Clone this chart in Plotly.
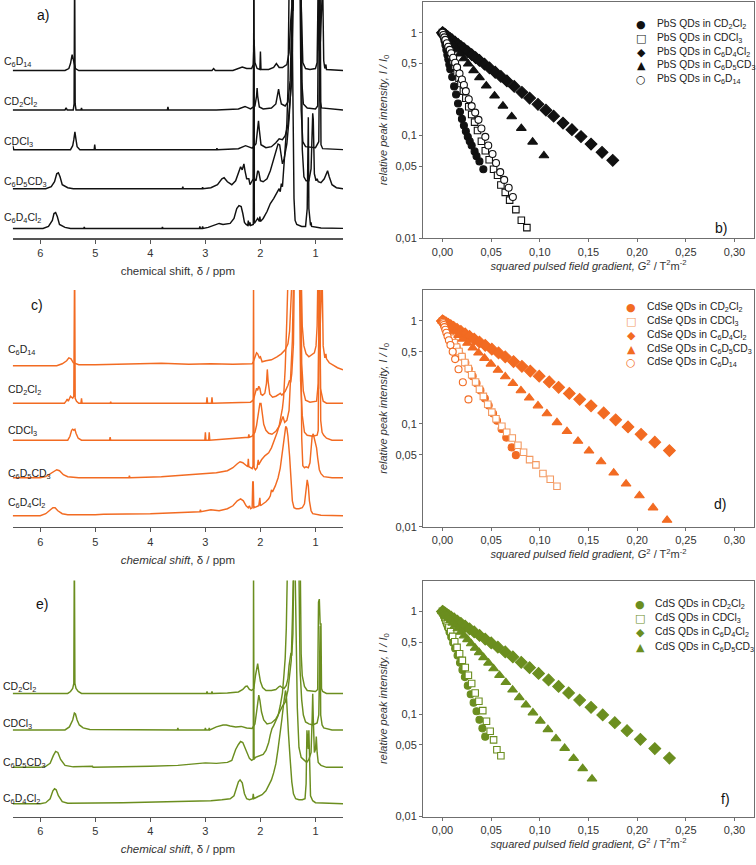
import plotly.graph_objects as go

W, H = 756, 865
FONT = "Liberation Sans, Arial, sans-serif"
BLACK = "#111111"
ORANGE = "#F26B22"
ORANGE_L = "#F39A62"
GREEN = "#6B8E1F"
AXC = "#6f6f6f"

# ---------------- NMR spectra: (ppm, height above own baseline) ----------------
SOLVENTS_A = ["C<sub>6</sub>D<sub>14</sub>", "CD<sub>2</sub>Cl<sub>2</sub>", "CDCl<sub>3</sub>",
              "C<sub>6</sub>D<sub>5</sub>CD<sub>3</sub>", "C<sub>6</sub>D<sub>4</sub>Cl<sub>2</sub>"]
SOLVENTS_E = SOLVENTS_A[1:]
BASE_A = [169, 129.3, 89.3, 50, 10]
BASE_C = [162.4, 124.7, 87.4, 49.7, 11.4]
BASE_E = [124, 87.3, 49.6, 13]

A_C6D14 = [(6.5,0),(5.55,0),(5.48,2),(5.45,7),(5.42,16),(5.39,7),(5.36,2),(5.3,0),(2.88,0),(2.85,2),(2.82,0),
           (2.5,0),(2.4,2),(2.33,3.5),(2.25,2),(2.16,2),(2.13,6),(2.115,31),(2.10,8),(2.06,2),(2.01,1),(2.0,19),
           (1.99,1),(1.85,1),(1.76,3),(1.71,7),(1.66,3),(1.6,3),(1.52,6),(1.48,18),(1.45,50),(1.43,64),(1.41,60),
           (1.39,90),(1.27,90),(1.25,40),(1.23,8),(1.18,2),(1.1,1),(1.0,2),(0.97,8),(0.95,90),(0.93,20),(0.91,30),
           (0.89,90),(0.87,90),(0.85,10),(0.83,2),(0.81,6),(0.80,1),(0.5,0)]
A_CD2CL2 = [(6.5,0),(5.55,0),(5.53,2),(5.51,0),(5.40,0),(5.385,6),(5.375,150),(5.365,6),(5.35,0),(5.26,0),(5.25,2),
            (5.24,0),(3.69,0),(3.68,3),(3.67,0),(2.8,0),(2.4,1),(2.28,3.5),(2.18,1),(2.1,4),(2.07,14),(2.06,22),
            (2.05,14),(2.02,3),(1.95,1),(1.8,2),(1.72,6),(1.69,14),(1.67,21),(1.65,14),(1.62,6),(1.55,4),(1.50,8),
            (1.46,30),(1.43,80),(1.40,150),(1.27,150),(1.25,30),(1.22,6),(1.15,2),(1.0,1),(0.96,4),(0.94,150),
            (0.93,150),(0.92,10),(0.89,2),(0.5,0)]
A_CDCL3 = [(6.5,4),(6.48,0),(5.45,0),(5.41,4),(5.39,10),(5.37,18),(5.35,10),(5.33,3),(5.28,0),(5.02,0),(5.01,5),
           (5.00,0),(2.8,0),(2.79,1.5),(2.78,0),(2.4,1),(2.27,4),(2.15,1.5),(2.08,6),(2.05,20),(2.035,29),(2.02,20),
           (1.99,5),(1.9,2),(1.8,3),(1.72,7),(1.66,11),(1.6,10),(1.55,14),(1.5,25),(1.47,45),(1.45,57),(1.43,70),
           (1.40,160),(1.28,160),(1.26,40),(1.23,8),(1.18,3),(1.0,2),(0.94,8),(0.925,160),(0.915,160),(0.90,5),
           (0.87,1),(0.5,0)]
A_C6D5CD3 = [(6.5,0),(5.9,0),(5.8,2),(5.74,7),(5.70,15),(5.67,16),(5.64,12),(5.6,4),(5.5,1),(5.4,0),(3.42,0),
             (3.41,2),(3.40,0),(3.06,0),(3.05,1.5),(3.04,0),(2.9,1),(2.78,4),(2.70,10),(2.66,11),(2.6,7),(2.52,4),
             (2.45,8),(2.40,17),(2.36,22),(2.33,19),(2.30,25),(2.28,18),(2.25,10),(2.21,10),(2.19,4),(2.16,7),
             (2.13,10),(2.12,200),(2.11,10),(2.08,8),(2.05,18),(2.03,17),(2.0,8),(1.95,7),(1.88,10),(1.82,18),
             (1.76,30),(1.72,38),(1.68,45),(1.65,44),(1.62,35),(1.6,25),(1.57,30),(1.52,45),(1.48,70),(1.46,95),
             (1.44,110),(1.42,200),(1.26,200),(1.24,40),(1.21,12),(1.17,8),(1.12,8),(1.08,20),(1.06,70),(1.05,76),
             (1.04,70),(1.02,15),(0.99,8),(0.97,10),(0.95,7),(0.9,6),(0.84,10),(0.80,17),(0.78,18),(0.75,12),
             (0.70,4),(0.62,1),(0.5,0)]
A_C6D4CL2 = [(6.5,0),(5.95,0),(5.85,2),(5.78,8),(5.75,15),(5.72,16),(5.69,12),(5.65,4),(5.55,1),(5.45,0),(5.21,0),
             (5.2,1.5),(5.19,0),(3.79,0),(3.78,1.5),(3.77,0),(3.11,0),(3.10,2),(3.09,0),(3.06,0),(3.05,2),(3.04,0),
             (2.95,1),(2.8,4),(2.75,5),(2.68,4),(2.55,5),(2.48,10),(2.43,20),(2.39,23),(2.35,22),(2.32,15),(2.29,6),
             (2.26,4),(2.23,3),(2.22,8),(2.21,3),(2.19,6),(2.18,3),(2.13,4),(2.12,240),(2.11,5),(2.08,8),(2.05,10),
             (2.02,7),(2.01,12),(2.0,7),(1.95,10),(1.88,17),(1.82,25),(1.76,30),(1.70,37),(1.66,40),(1.64,37),
             (1.62,45),(1.60,42),(1.58,60),(1.56,80),(1.54,95),(1.52,105),(1.50,140),(1.48,240),(1.43,240),
             (1.41,120),(1.39,30),(1.37,8),(1.34,4),(1.25,2),(1.18,2),(1.15,20),(1.14,112),(1.13,112),(1.12,20),
             (1.09,3),(1.08,6),(1.07,2),(0.9,0.5),(0.5,0)]

C_C6D14 = [(6.5,0),(5.7,0),(5.6,2),(5.52,5),(5.48,8),(5.44,7),(5.4,3),(5.3,1),(5.0,1),(4.5,1.5),(3.8,2.5),(3.3,1.5),
           (2.9,2),(2.5,1.5),(2.2,1.5),(2.15,2),(2.13,4),(2.10,9),(2.07,13),(2.05,12),(2.02,8),(2.0,9),(1.97,4),
           (1.9,5),(1.8,6),(1.7,9),(1.62,12),(1.55,16),(1.50,22),(1.47,35),(1.44,60),(1.42,95),(1.26,95),(1.24,40),
           (1.21,20),(1.17,12),(1.12,9),(1.07,11),(1.02,13),(0.99,20),(0.97,40),(0.955,95),(0.94,95),(0.92,30),
           (0.90,95),(0.88,95),(0.86,20),(0.83,8),(0.81,12),(0.80,7),(0.75,3),(0.6,-2),(0.5,-4)]
C_CD2CL2 = [(6.5,0),(5.56,0),(5.53,2),(5.51,4),(5.49,2),(5.47,5),(5.45,7),(5.43,6),(5.41,5),(5.39,7),(5.375,150),
            (5.365,5),(5.34,2),(5.3,0),(5.26,0),(5.25,5),(5.24,0),(4.73,0),(4.72,1.5),(4.71,0),(2.98,0),(2.97,6),
            (2.96,0),(2.89,0),(2.88,6),(2.87,0),(2.3,0.5),(2.18,1),(2.13,3),(2.09,12),(2.07,15),(2.05,13),(2.03,17),
            (2.01,15),(1.99,9),(1.96,8),(1.92,10),(1.89,20),(1.875,34),(1.86,22),(1.83,9),(1.78,6),(1.72,7),
            (1.66,9),(1.64,10),(1.61,8),(1.55,12),(1.50,18),(1.47,23),(1.45,21),(1.43,30),(1.40,60),(1.38,150),
            (1.27,150),(1.25,40),(1.22,12),(1.18,3),(1.1,1),(0.98,2),(0.95,20),(0.94,150),(0.925,150),(0.91,15),
            (0.88,6),(0.86,2),(0.8,0),(0.5,0)]
C_CDCL3 = [(6.5,0),(5.5,0),(5.46,4),(5.43,10),(5.41,11),(5.39,10),(5.37,11),(5.35,7),(5.31,2),(5.25,0),(4.74,0),
           (4.73,3),(4.72,0),(3.01,0),(3.0,8),(2.99,0),(2.94,0),(2.93,8),(2.92,0),(2.6,1.5),(2.3,2.5),(2.22,3),
           (2.21,6),(2.20,3),(2.15,4),(2.10,8),(2.07,15),(2.05,22),(2.03,32),(2.01,37),(1.99,37),(1.97,28),(1.94,16),
           (1.90,10),(1.85,7),(1.79,6),(1.72,9),(1.65,15),(1.61,22),(1.59,24),(1.56,18),(1.52,20),(1.48,30),
           (1.45,60),(1.42,100),(1.40,160),(1.29,160),(1.27,60),(1.24,25),(1.20,8),(1.15,5),(1.05,4),(0.97,5),
           (0.95,10),(0.935,160),(0.92,160),(0.905,20),(0.88,8),(0.85,5),(0.8,2),(0.7,0),(0.5,0)]
C_C6D5CD3 = [(6.5,0),(6.0,0),(5.9,1),(5.82,4),(5.75,7),(5.70,8),(5.65,7),(5.58,3),(5.5,1),(5.3,0),(4.39,0),(4.38,2),
             (4.37,0),(3.8,1),(3.3,3),(3.05,4),(2.8,5),(2.6,7),(2.5,10),(2.42,14),(2.37,16),(2.32,15),(2.27,13),
             (2.23,11),(2.22,19),(2.21,11),(2.18,10),(2.15,9),(2.135,12),(2.125,200),(2.115,10),(2.09,8),(2.06,10),
             (2.04,18),(2.03,13),(1.98,18),(1.92,22),(1.85,25),(1.80,30),(1.75,37),(1.70,45),(1.66,52),(1.62,62),
             (1.60,70),(1.58,80),(1.55,110),(1.52,160),(1.50,200),(1.27,200),(1.25,40),(1.23,12),(1.20,10),
             (1.17,11),(1.13,10),(1.10,15),(1.08,30),(1.06,42),(1.04,44),(1.02,40),(1.0,36),(0.98,30),(0.96,20),
             (0.93,8),(0.9,4),(0.85,1),(0.7,0),(0.5,0)]
C_C6D4CL2 = [(6.5,0),(6.0,0),(5.9,2),(5.82,6),(5.77,8),(5.73,8),(5.68,5),(5.6,2),(5.5,1),(5.0,1),(4.85,1.5),(4.0,2),
             (3.5,3),(3.1,4),(3.09,6),(3.08,4),(2.9,6),(2.75,5),(2.6,7),(2.5,10),(2.42,15),(2.36,17),(2.31,15),
             (2.26,10),(2.22,8),(2.20,10),(2.18,7),(2.15,8),(2.14,34),(2.13,34),(2.12,8),(2.08,9),(2.03,10),(2.01,18),
             (2.0,10),(1.95,12),(1.9,14),(1.85,17),(1.82,20),(1.80,26),(1.78,24),(1.73,30),(1.68,38),(1.64,48),
             (1.61,60),(1.58,75),(1.56,85),(1.54,90),(1.52,88),(1.50,80),(1.47,60),(1.45,40),(1.42,15),(1.39,8),
             (1.35,7),(1.30,7),(1.24,8),(1.20,12),(1.17,25),(1.15,36),(1.13,30),(1.11,15),(1.08,5),(1.05,2),
             (0.9,0.5),(0.5,0)]

E_CD2CL2 = [(6.5,0),(5.5,0),(5.45,2),(5.41,5),(5.39,10),(5.38,150),(5.37,10),(5.35,5),(5.31,2),(5.25,0),(2.98,0),
            (2.97,2),(2.96,0),(2.89,0),(2.88,2),(2.87,0),(2.6,0.5),(2.4,1.5),(2.32,4),(2.27,7),(2.24,7.5),(2.2,4),
            (2.16,3),(2.12,5),(2.09,18),(2.07,27),(2.05,30),(2.03,22),(2.0,12),(1.96,6),(1.9,3),(1.8,3),(1.72,4),
            (1.66,7),(1.64,7.5),(1.61,6),(1.57,5),(1.53,8),(1.5,15),(1.48,28),(1.46,38),(1.445,41),(1.43,38),
            (1.41,60),(1.39,150),(1.28,150),(1.26,40),(1.24,18),(1.20,7),(1.15,3),(1.0,2),(0.96,4),(0.945,92),
            (0.93,95),(0.915,70),(0.90,70),(0.89,5),(0.87,2),(0.8,0),(0.5,0)]
E_CDCL3 = [(6.5,0),(5.55,0),(5.47,3),(5.41,10),(5.38,17),(5.36,16),(5.33,10),(5.29,5),(5.22,2),(5.1,0.5),(3.51,0),
           (3.50,2),(3.49,0),(3.01,0),(3.0,2),(2.99,0),(2.94,0),(2.93,2),(2.92,0),(2.8,3),(2.68,5),(2.62,5),(2.55,4),
           (2.45,3),(2.35,3.5),(2.25,2),(2.15,1.5),(2.10,6),(2.07,18),(2.05,30),(2.03,35),(2.01,30),(1.98,18),
           (1.94,10),(1.88,6),(1.8,7),(1.72,11),(1.66,17),(1.6,24),(1.55,28),(1.50,40),(1.47,55),(1.44,70),
           (1.42,110),(1.40,160),(1.3,160),(1.28,60),(1.25,30),(1.22,15),(1.18,8),(1.12,6),(1.05,5),(0.97,7),
           (0.94,15),(0.925,105),(0.915,105),(0.905,15),(0.88,5),(0.85,2),(0.7,0),(0.5,0)]
E_C6D5CD3 = [(6.5,0),(6.0,0),(5.9,1),(5.82,4),(5.76,12),(5.72,16),(5.68,15),(5.63,8),(5.55,2),(5.4,0.5),(5.05,1),
             (5.04,0),(4.0,1),(3.5,2),(3.1,4),(3.0,4.5),(2.8,4),(2.6,5),(2.52,7),(2.45,18),(2.40,23),(2.36,26),
             (2.32,25),(2.28,20),(2.24,14),(2.2,9),(2.16,7),(2.13,8),(2.125,200),(2.115,8),(2.09,10),(2.05,11),
             (2.0,12),(1.95,13),(1.9,17),(1.85,25),(1.82,33),(1.79,39),(1.76,42),(1.73,46),(1.68,52),(1.64,62),
             (1.60,75),(1.57,95),(1.55,110),(1.53,140),(1.51,200),(1.37,200),(1.33,60),(1.30,20),(1.26,10),
             (1.22,8),(1.16,5),(1.12,8),(1.08,15),(1.06,50),(1.05,74),(1.04,50),(1.02,15),(1.0,18),(0.985,31),
             (0.97,15),(0.95,5),(0.9,2),(0.8,0),(0.5,0)]
E_C6D4CL2 = [(6.5,0),(6.0,0),(5.9,1),(5.82,5),(5.77,13),(5.74,15),(5.71,14),(5.67,8),(5.6,2),(5.5,0.5),(4.5,1),
             (3.5,2),(3.1,3),(2.9,3),(2.7,4),(2.55,5),(2.48,8),(2.44,15),(2.40,22),(2.37,24),(2.33,21),(2.29,10),
             (2.25,5),(2.2,4),(2.14,5),(2.13,10),(2.12,5),(2.05,7),(1.97,9),(1.9,13),(1.85,18),(1.80,24),(1.76,31),
             (1.72,40),(1.68,55),(1.64,70),(1.61,85),(1.58,100),(1.56,110),(1.545,114),(1.53,110),(1.51,95),
             (1.49,70),(1.46,45),(1.43,22),(1.40,10),(1.36,5),(1.30,4),(1.24,4),(1.19,5),(1.17,20),(1.155,74),
             (1.14,60),(1.13,55),(1.12,74),(1.105,40),(1.09,8),(1.05,3),(1.0,1),(0.5,0)]

SPEC_A = [A_C6D14, A_CD2CL2, A_CDCL3, A_C6D5CD3, A_C6D4CL2]
SPEC_C = [C_C6D14, C_CD2CL2, C_CDCL3, C_C6D5CD3, C_C6D4CL2]
SPEC_E = [E_CD2CL2, E_CDCL3, E_C6D5CD3, E_C6D4CL2]

PPM_TICKS = [6, 5, 4, 3, 2, 1]

# ---------------- DOSY decays: G^2 (T^2 m^-2) and I/I0 ----------------
B_G2_CD2CL2 = [0,0.001,0.002,0.003,0.004,0.005,0.006,0.007,0.008,0.010,0.012,0.014,0.016,0.018,0.020,0.022,0.024,0.026,0.028,0.030,0.033,0.035,0.038,0.042]
B_I_CD2CL2 = [1,0.92,0.84,0.76,0.68,0.61,0.55,0.49,0.44,0.37,0.30,0.25,0.205,0.17,0.145,0.125,0.11,0.097,0.088,0.080,0.070,0.063,0.056,0.047]
B_G2_CDCL3 = [0,0.0015,0.003,0.0045,0.006,0.0075,0.009,0.011,0.013,0.015,0.017,0.019,0.0215,0.024,0.027,0.030,0.033,0.036,0.040,0.044,0.048,0.0525,0.0566,0.060,0.0645,0.069,0.0754,0.081,0.0867]
B_I_CDCL3 = [1,0.93,0.86,0.79,0.72,0.66,0.60,0.53,0.47,0.41,0.36,0.32,0.27,0.23,0.19,0.16,0.135,0.112,0.088,0.071,0.058,0.047,0.041,0.033,0.028,0.0235,0.019,0.015,0.0127]
B_G2_C6D4CL2 = [0,0.0004,0.0012,0.0025,0.004,0.006,0.008,0.010,0.013,0.016,0.019,0.022,0.026,0.030,0.034,0.038,0.0432,0.0483,0.0542,0.060,0.0662,0.0737,0.0816,0.0895,0.0981,0.1063,0.1142,0.1238,0.1330,0.1423,0.1526,0.1639,0.1749]
B_I_C6D4CL2 = [1,0.9935,0.980,0.960,0.937,0.906,0.877,0.849,0.808,0.770,0.733,0.698,0.654,0.612,0.573,0.537,0.494,0.454,0.412,0.375,0.339,0.300,0.263,0.231,0.201,0.176,0.154,0.132,0.114,0.0975,0.0826,0.0687,0.0574]
B_G2_C6D5CD3 = [0,0.0005,0.0012,0.0022,0.0035,0.005,0.0068,0.009,0.0115,0.0145,0.018,0.022,0.0265,0.032,0.038,0.045,0.0535,0.0621,0.0711,0.081,0.0926,0.1042]
B_I_C6D5CD3 = [1,0.987,0.969,0.943,0.912,0.876,0.835,0.788,0.738,0.682,0.621,0.559,0.497,0.429,0.366,0.304,0.243,0.1936,0.1527,0.1175,0.0865,0.0637]
B_G2_C6D14 = [0,0.001,0.002,0.003,0.0045,0.006,0.0075,0.009,0.011,0.013,0.015,0.0175,0.020,0.022,0.024,0.027,0.030,0.0336,0.037,0.040,0.044,0.047,0.0514,0.055,0.0593,0.0634,0.068,0.0723]
B_I_C6D14 = [1,0.95,0.90,0.85,0.79,0.73,0.68,0.63,0.57,0.51,0.46,0.40,0.35,0.31,0.27,0.225,0.193,0.167,0.142,0.117,0.097,0.080,0.066,0.054,0.044,0.037,0.031,0.0252]

D_G2_CD2CL2 = [0,0.0005,0.0012,0.002,0.003,0.0045,0.006,0.008,0.010,0.012,0.0145,0.017,0.020,0.0235,0.027,0.031,0.035,0.039,0.0435,0.0475,0.052,0.056,0.0607,0.0655,0.071,0.0754]
D_I_CD2CL2 = [1,0.980,0.953,0.923,0.887,0.836,0.787,0.727,0.671,0.620,0.561,0.508,0.451,0.392,0.341,0.291,0.248,0.2115,0.1768,0.1508,0.126,0.1075,0.0891,0.0736,0.0591,0.0497]
D_G2_CDCL3 = [0,0.0006,0.0015,0.0025,0.004,0.0055,0.0075,0.0095,0.012,0.0145,0.017,0.020,0.023,0.0265,0.030,0.034,0.038,0.042,0.0465,0.0507,0.055,0.061,0.066,0.0717,0.0775,0.0833,0.0895,0.096,0.1032,0.1107,0.1176]
D_I_CDCL3 = [1,0.98,0.945,0.905,0.85,0.80,0.74,0.68,0.615,0.555,0.505,0.45,0.395,0.345,0.30,0.255,0.217,0.185,0.155,0.130,0.112,0.095,0.083,0.073,0.062,0.053,0.045,0.040,0.033,0.029,0.0248]
D_G2_C6D4CL2 = [0,0.0003,0.001,0.0022,0.004,0.006,0.0085,0.0115,0.015,0.0189,0.0233,0.0278,0.0326,0.038,0.0439,0.0507,0.0576,0.0645,0.073,0.0816,0.0902,0.0994,0.1097,0.1193,0.1303,0.1409,0.1526,0.1656,0.1779,0.1906,0.204,0.2181,0.2331]
D_I_C6D4CL2 = [1,0.9963,0.9876,0.973,0.9515,0.928,0.900,0.867,0.830,0.7904,0.7484,0.7079,0.6668,0.6234,0.5793,0.5323,0.4887,0.4484,0.4035,0.3625,0.326,0.2905,0.2557,0.2269,0.1978,0.1734,0.150,0.1276,0.1095,0.0935,0.0791,0.0664,0.0551]
D_G2_C6D5CD3 = [0,0.0007,0.0021,0.0038,0.0062,0.0089,0.0123,0.0165,0.0209,0.0257,0.0312,0.037,0.0432,0.0498,0.057,0.0645,0.0723,0.0806,0.0891,0.0981,0.1073,0.1176,0.1279,0.1392,0.1505,0.1629,0.1759,0.1886,0.2023,0.2163,0.2307]
D_I_C6D5CD3 = [1,0.9866,0.9603,0.9292,0.8871,0.8419,0.7883,0.7271,0.6681,0.6086,0.5472,0.4893,0.4341,0.3821,0.3324,0.2875,0.2474,0.2108,0.1789,0.1502,0.1258,0.1031,0.08452,0.0679,0.05462,0.04298,0.03343,0.02616,0.02008,0.01532,0.0116]
D_G2_C6D14 = [0,0.0003,0.0008,0.0014,0.0021,0.003,0.004,0.0052,0.0066,0.0082,0.0105,0.013,0.0165,0.0209,0.0267]
D_I_C6D14 = [1,0.9805,0.949,0.912,0.871,0.821,0.769,0.711,0.649,0.584,0.502,0.426,0.339,0.254,0.173]

F_G2_CD2CL2 = [0,0.0005,0.0012,0.002,0.003,0.0042,0.0056,0.0072,0.009,0.011,0.013,0.0155,0.018,0.0205,0.023,0.026,0.029,0.032,0.035,0.038,0.041,0.0439]
F_I_CD2CL2 = [1,0.9685,0.926,0.880,0.825,0.764,0.699,0.631,0.562,0.494,0.435,0.371,0.316,0.269,0.229,0.189,0.156,0.129,0.1064,0.0878,0.0725,0.0602]
F_G2_CDCL3 = [0,0.0006,0.0014,0.0024,0.0036,0.005,0.0066,0.0084,0.0104,0.0126,0.015,0.0176,0.0204,0.0234,0.0266,0.030,0.0336,0.0374,0.0414,0.0452,0.049,0.0525,0.0559,0.060]
F_I_CDCL3 = [1,0.968,0.927,0.878,0.823,0.764,0.700,0.636,0.571,0.507,0.446,0.387,0.333,0.284,0.239,0.198,0.160,0.133,0.108,0.085,0.068,0.056,0.0449,0.0392]
F_G2_C6D4CL2 = [0,0.0004,0.0014,0.0027,0.0045,0.0065,0.0089,0.012,0.0154,0.0189,0.0233,0.0278,0.0326,0.0381,0.0439,0.0501,0.0569,0.0645,0.0723,0.0809,0.0895,0.0987,0.109,0.1193,0.1296,0.1409,0.1526,0.1646,0.177,0.1896,0.2033,0.2181,0.2331]
F_I_C6D4CL2 = [1,0.9944,0.9804,0.9625,0.9384,0.9124,0.8817,0.8444,0.8043,0.7659,0.7199,0.6754,0.6312,0.5839,0.5382,0.4930,0.4478,0.4023,0.3604,0.3192,0.2827,0.2483,0.2147,0.1856,0.1605,0.1369,0.1161,0.0980,0.0822,0.0688,0.0567,0.0460,0.03725]
F_G2_C6D5CD3 = [0,0.0003,0.0014,0.0027,0.0045,0.0062,0.0082,0.0106,0.013,0.0158,0.0189,0.0223,0.0257,0.0295,0.0336,0.0377,0.0422,0.0473,0.0525,0.0586,0.0651,0.072,0.0789,0.0857,0.0929,0.1005,0.1083,0.1166,0.1255,0.1347,0.144,0.1536]
F_I_C6D5CD3 = [1,0.9927,0.9663,0.9360,0.8958,0.8592,0.8181,0.7717,0.7273,0.6793,0.6294,0.5794,0.5331,0.4858,0.4393,0.3975,0.3558,0.3143,0.2766,0.2383,0.2032,0.1717,0.1449,0.1227,0.1029,0.0855,0.0706,0.05761,0.04634,0.037,0.02946,0.0233]

G2_TICKS = [0, 0.05, 0.10, 0.15, 0.20, 0.25, 0.30]
G2_TICKTEXT = ["0,00", "0,05", "0,10", "0,15", "0,20", "0,25", "0,30"]
I_TICKS = [0.01, 0.05, 0.1, 0.5, 1]
I_TICKTEXT = ["0,01", "0,05", "0,1", "0,5", "1"]

# ---------------- layout helpers (pixel geometry) ----------------
def fy(px):
    return 1 - px / H

def fx(px):
    return px / W

LEFT_X = [fx(12.7), fx(343)]
RIGHT_X = [fx(423), fx(754)]
ROWS = [(0, 240), (292, 530.7), (584.6, 822.3)]
RROWS = [(1.7, 240), (292, 530.5), (584.6, 822.3)]

fig = go.Figure()

def add_spectra(spectra, bases, color, ax):
    for pts, base in zip(spectra, bases):
        fig.add_trace(go.Scatter(x=[p for p, h in pts], y=[base + h for p, h in pts], mode="lines",
                                 line=dict(color=color, width=1.45), xaxis="x" + ax, yaxis="y" + ax,
                                 hoverinfo="skip", showlegend=False))

add_spectra(SPEC_A, BASE_A, BLACK, "")
add_spectra(SPEC_C, BASE_C, ORANGE, "3")
add_spectra(SPEC_E, BASE_E, GREEN, "5")

def marker(sym, color, fill, size):
    return dict(symbol=sym, size=size, color=fill, line=dict(color=color, width=1.1))

def add_dosy(series, ax):
    for g2, inten, m in series:
        fig.add_trace(go.Scatter(x=g2, y=inten, mode="markers", marker=m, xaxis="x" + ax, yaxis="y" + ax,
                                 hoverinfo="skip", showlegend=False, cliponaxis=False))

def styles(col, sqcol):
    return [marker("circle", col, col, 7), marker("square", sqcol, "white", 6.5),
            marker("diamond", col, col, 9), marker("triangle-up", col, col, 8.5),
            marker("circle", col, "white", 7)]

SB = styles(BLACK, BLACK)
SD = styles(ORANGE, ORANGE_L)
SF = styles(GREEN, GREEN)

add_dosy([(B_G2_CD2CL2, B_I_CD2CL2, SB[0]), (B_G2_CDCL3, B_I_CDCL3, SB[1]), (B_G2_C6D4CL2, B_I_C6D4CL2, SB[2]),
          (B_G2_C6D5CD3, B_I_C6D5CD3, SB[3]), (B_G2_C6D14, B_I_C6D14, SB[4])], "2")
add_dosy([(D_G2_CD2CL2, D_I_CD2CL2, SD[0]), (D_G2_CDCL3, D_I_CDCL3, SD[1]), (D_G2_C6D4CL2, D_I_C6D4CL2, SD[2]),
          (D_G2_C6D5CD3, D_I_C6D5CD3, SD[3]), (D_G2_C6D14, D_I_C6D14, SD[4])], "4")
add_dosy([(F_G2_CD2CL2, F_I_CD2CL2, SF[0]), (F_G2_CDCL3, F_I_CDCL3, SF[1]), (F_G2_C6D4CL2, F_I_C6D4CL2, SF[2]),
          (F_G2_C6D5CD3, F_I_C6D5CD3, SF[3])], "6")

tickfont = dict(family=FONT, size=11, color="#333333")
titlefont = dict(family=FONT, size=11, color="#333333")

layout = dict(width=W, height=H, margin=dict(l=0, r=0, t=0, b=0), paper_bgcolor="white",
              plot_bgcolor="white", showlegend=False, font=dict(family=FONT))

left_titles = ["chemical shift, δ / ppm", "<i>chemical shift</i>, δ / ppm", "<i>chemical shift</i>, δ / ppm"]
left_yr = [240, 238.7, 237.7]
for i, (top, bot) in enumerate(ROWS):
    n = [1, 3, 5][i]
    xa = "xaxis" if n == 1 else "xaxis%d" % n
    ya = "yaxis" if n == 1 else "yaxis%d" % n
    yname = "y" if n == 1 else "y%d" % n
    xname = "x" if n == 1 else "x%d" % n
    layout[xa] = dict(domain=LEFT_X, anchor=yname, range=[6.5, 0.5], tickvals=PPM_TICKS, ticks="outside",
                      ticklen=4, tickcolor="#555", showline=True, linecolor="#555", linewidth=1.3,
                      showgrid=False, zeroline=False, tickfont=dict(family=FONT, size=11, color="#333"),
                      title=dict(text=left_titles[i], font=dict(family=FONT, size=11.5, color="#333"), standoff=9))
    layout[ya] = dict(domain=[fy(bot), fy(top)], anchor=xname, range=[0, left_yr[i]], visible=False,
                      showgrid=False, zeroline=False)

for i, (top, bot) in enumerate(RROWS):
    n = [2, 4, 6][i]
    layout["xaxis%d" % n] = dict(domain=RIGHT_X, anchor="y%d" % n, range=[-0.02, 0.32], tickvals=G2_TICKS,
                                 ticktext=G2_TICKTEXT, ticks="outside", ticklen=3, tickcolor=AXC,
                                 showline=True, mirror=True, linecolor=AXC, linewidth=1, showgrid=False,
                                 zeroline=False, tickfont=tickfont,
                                 title=dict(text="<i>squared pulsed field gradient, G</i><sup>2</sup> / T<sup>2</sup>m<sup>-2</sup>",
                                            font=titlefont, standoff=5))
    layout["yaxis%d" % n] = dict(domain=[fy(bot), fy(top)], anchor="x%d" % n, type="log", range=[-2, 0.301],
                                 tickvals=I_TICKS, ticktext=I_TICKTEXT, ticks="outside", ticklen=3,
                                 tickcolor=AXC, showline=True, mirror=True, linecolor=AXC, linewidth=1,
                                 showgrid=False, zeroline=False, tickfont=tickfont,
                                 title=dict(text="<i>relative peak intensity, I / I</i><sub>0</sub>",
                                            font=titlefont, standoff=5))

def ann(text, x, y, size=10, xanchor="left", color="#222", family=FONT):
    return dict(text=text, x=fx(x), y=fy(y), xref="paper", yref="paper", showarrow=False,
                xanchor=xanchor, yanchor="middle", font=dict(size=size, color=color, family=family))

anns = []
for t, (x, y) in zip(["a)", "b)", "c)", "d)", "e)", "f)"],
                     [(43, 15), (721, 230), (37, 307), (720, 508), (42, 608), (725, 805)]):
    anns.append(ann(t, x, y, size=14, xanchor="center", color="#111"))

for lbl, y in zip(SOLVENTS_A, [62, 103, 143, 183, 220]):
    anns.append(ann(lbl, 2, y, size=10.5))
for lbl, y in zip(SOLVENTS_A, [352, 393, 434, 477, 507]):
    anns.append(ann(lbl, 6, y, size=10.5))
for lbl, y in zip(SOLVENTS_E, [692, 729, 768, 805]):
    anns.append(ann(lbl, 1, y, size=10.5))

GLYPHS = ["●", "□", "◆", "▲", "○"]
def legend(prefix, labels, col, sqcol, xs, xt, ys):
    cols = [col, sqcol, col, col, col]
    for g, lab, c, y in zip(GLYPHS, labels, cols, ys):
        anns.append(ann(g, xs, y, size=11, xanchor="center", color=c, family="DejaVu Sans"))
        anns.append(ann(prefix + " QDs in " + lab, xt, y, size=10.3, color="#222"))

LEG_LABELS = [SOLVENTS_A[1], SOLVENTS_A[2], SOLVENTS_A[4], SOLVENTS_A[3], SOLVENTS_A[0]]
legend("PbS", LEG_LABELS, BLACK, BLACK, 641, 655, [25, 38.75, 52.5, 66.25, 80])
legend("CdSe", LEG_LABELS, ORANGE, ORANGE_L, 631, 645, [310, 323.8, 337.7, 351.6, 365.5])
legend("CdS", LEG_LABELS[:4], GREEN, GREEN, 640, 653, [608.3, 622.8, 637.3, 651.7])

layout["annotations"] = anns
fig.update_layout(**layout)
fig.write_html("out.html", config={"displayModeBar": False, "staticPlot": True},
               post_script="document.body.style.margin='0px';document.body.style.overflow='hidden';")
